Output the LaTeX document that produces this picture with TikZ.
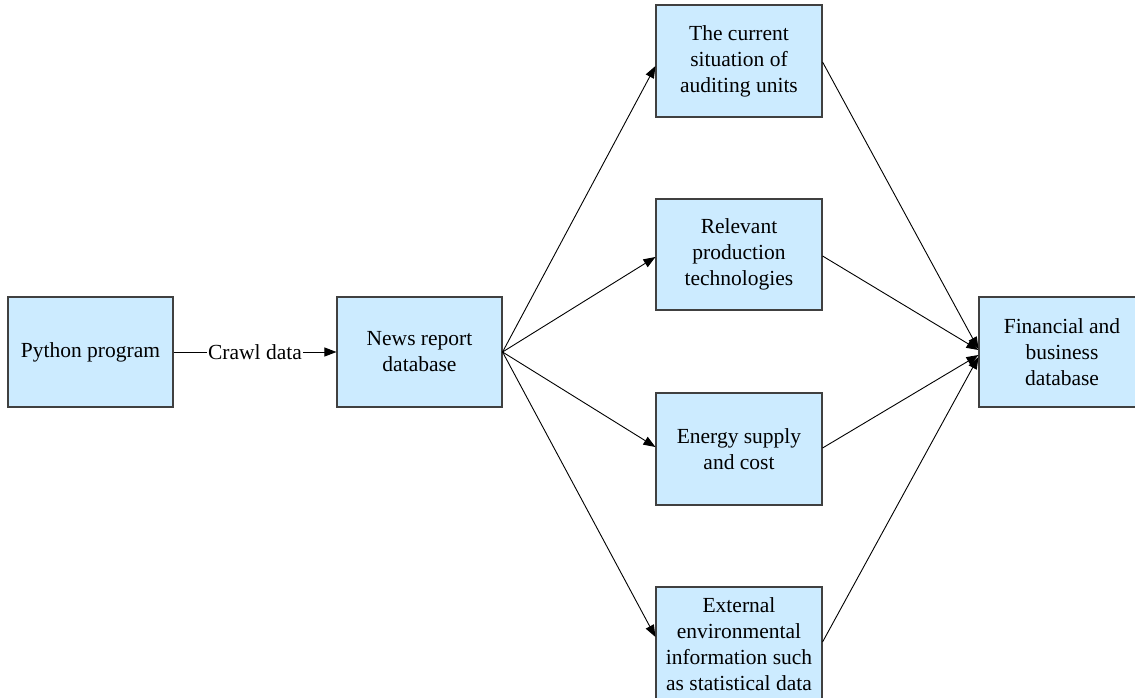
\documentclass[tikz,border=0pt]{standalone}
\usepackage{fontspec}
\setmainfont{Liberation Serif}
\usetikzlibrary{arrows.meta,calc}
\definecolor{boxfill}{HTML}{CCEBFF}
\definecolor{boxline}{HTML}{404040}
\tikzset{
  box/.style={draw=boxline, line width=1.1pt, fill=boxfill, align=center,
    inner sep=0pt, font=\fontsize{21.5}{26}\selectfont},
  flow/.style={line width=0.9pt, -{Triangle[length=12pt,width=9pt]}},
  link/.style={line width=0.9pt}
}
\begin{document}
\begin{tikzpicture}[x=1pt,y=-1pt]
\useasboundingbox (0,0) rectangle (1135,698);
\clip (0,0) rectangle (1135,698);
% boxes
\node[box, minimum width=165pt, minimum height=110pt] (py) at (90.5,352) {Python program};
\node[box, minimum width=165pt, minimum height=110pt] (news) at (419.5,352) {News report\\database};
\node[box, minimum width=166pt, minimum height=112pt] (cur) at (739,61) {The current\\situation of\\auditing units};
\node[box, minimum width=166pt, minimum height=111pt] (rel) at (739,254.5) {Relevant\\production\\technologies};
\node[box, minimum width=166pt, minimum height=112pt] (ene) at (739,449) {Energy supply\\and cost};
\node[box, minimum width=166pt, minimum height=114pt] (ext) at (739,644) {External\\environmental\\information such\\as statistical data};
\node[box, minimum width=166pt, minimum height=110pt] (fin) at (1062,352) {Financial and\\business\\database};
% crawl step
\draw[flow] (py.east) -- node[fill=white, inner sep=1pt, font=\fontsize{21.5}{26}\selectfont] (crawl) {Crawl data} (news.west);
% fan-out from the news database
\draw[flow] (news.east) -- ($(cur.west)+(0,5)$);
\draw[flow] (news.east) -- ($(rel.west)+(0,2.5)$);
\draw[flow] (news.east) -- ($(ene.west)+(0,-2)$);
\draw[flow] (news.east) -- ($(ext.west)+(0,-7)$);
% fan-in to the financial database
\draw[flow] ($(cur.east)+(0,1)$) -- ($(fin.west)+(0,-3)$);
\draw[flow] ($(rel.east)+(0,1.5)$) -- ($(fin.west)+(0,-2)$);
\draw[flow] ($(ene.east)+(0,-1)$) -- ($(fin.west)+(0,3)$);
\draw[flow] ($(ext.east)+(0,-2)$) -- ($(fin.west)+(0,5)$);
\end{tikzpicture}
\end{document}
